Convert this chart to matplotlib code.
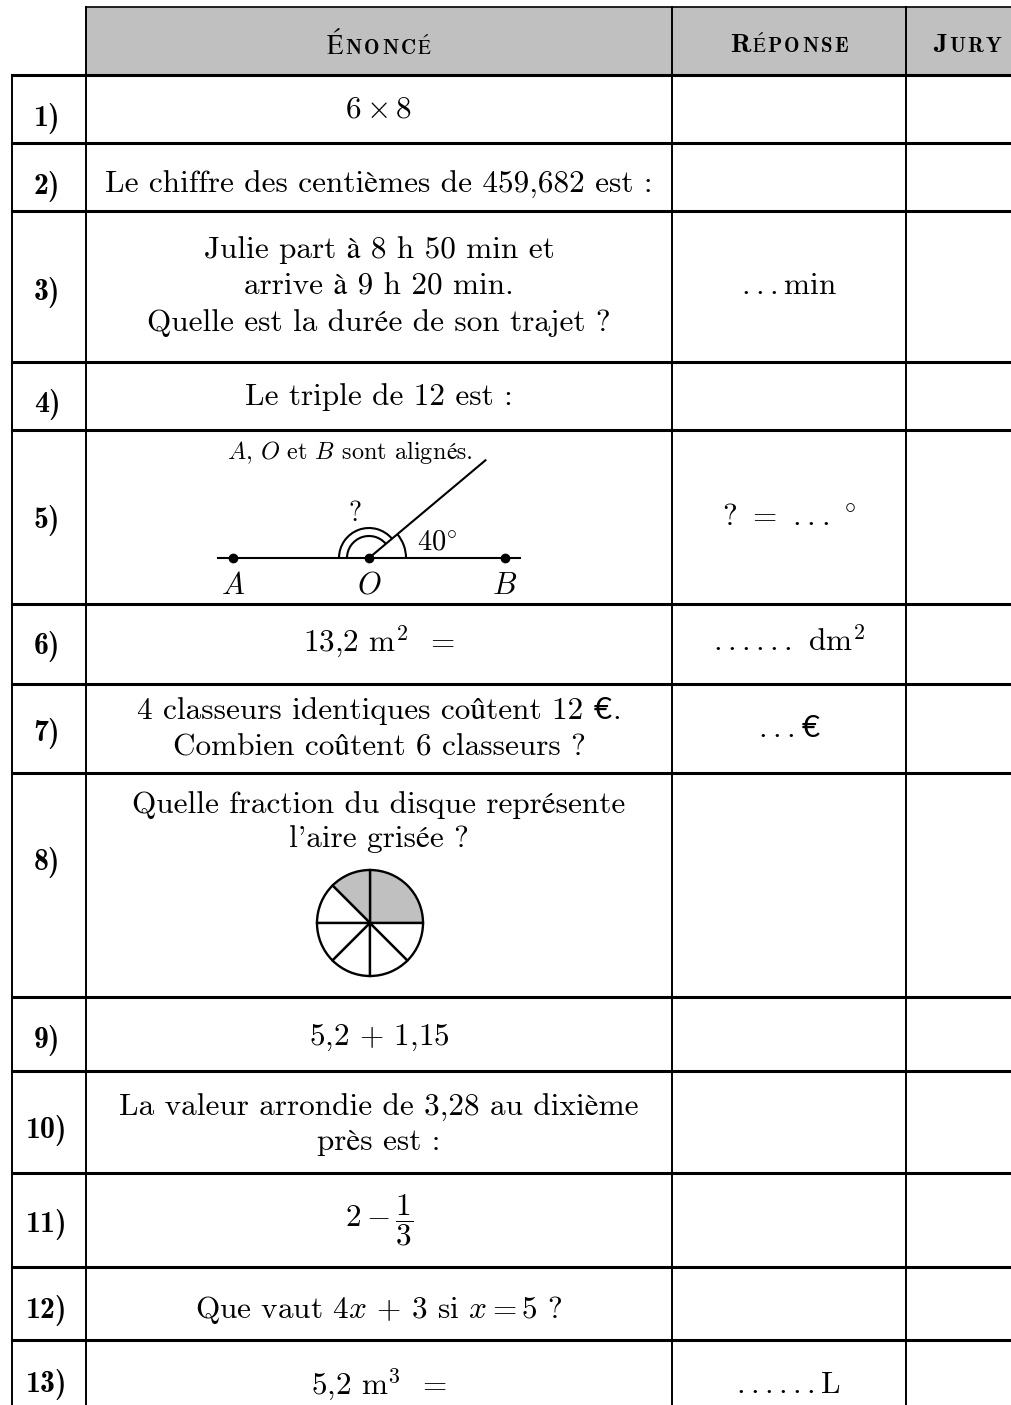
import matplotlib
matplotlib.use("Agg")
import numpy as np
import matplotlib.pyplot as plt
from matplotlib.patches import Rectangle, Arc
from matplotlib.offsetbox import TextArea, HPacker, VPacker, AnnotationBbox

plt.rcParams['mathtext.fontset'] = 'cm'
plt.rcParams['axes.unicode_minus'] = False

W, H = 1011, 1405
ROMAN = ['cmr10', 'STIXGeneral', 'DejaVu Serif']
BOLD = ['cmb10', 'STIXGeneral', 'DejaVu Serif']
EURO = ['Lato', 'DejaVu Sans']

# --- contenu du tableau ---
headers = [("É", "NONCÉ"), ("R", "ÉPONSE"), ("J", "URY")]
labels = ["1)", "2)", "3)", "4)", "5)", "6)", "7)", "8)", "9)", "10)", "11)", "12)", "13)"]
enonces = [
    r"$6\times 8$",
    "Le chiffre des centièmes de 459,682 est :",
    "Julie part à 8 h 50 min et\narrive à 9 h 20 min.\nQuelle est la durée de son trajet ?",
    "Le triple de 12 est :",
    "",
    r"13,2 m$^2$  =",
    "4 classeurs identiques coûtent 12 €.\nCombien coûtent 6 classeurs ?",
    "Quelle fraction du disque représente\nl'aire grisée ?",
    r"5,2 $+$ 1,15",
    "La valeur arrondie de 3,28 au dixième\nprès est :",
    r"$2 - \dfrac{1}{3}$",
    r"Que vaut $4x$ $+$ 3 si $x = 5$ ?",
    r"5,2 m$^3$  =",
]
reponses = ["", "", r"$...$min", "", r"? $=$ $...\;^{\circ}$", r"$......$ dm$^2$",
            r"$...$€", "", "", "", "", "", r"$......$L"]

# figure 5 : angle
angle_deg = 40
points = ["A", "O", "B"]
# figure 8 : disque partagé
parts = [90, 45, 45, 45, 45, 45, 45]
grises = [True, True, False, False, False, False, False]

# --- mise en page (pixels) ---
col_x = [12, 86, 672, 906]
head_top, head_bot = 7, 75
row_y = [75, 143, 211, 362, 430, 604, 684, 773, 997, 1071, 1173, 1267, 1340, 1430]
text_dy = [1, 8, 0, 1, 0, -2, 0, 0, 4, 3, 0, 7, 0]
lab_dy = [9, 9, 6, 9, 3, 2, 5, -22, 6, 8, 5, 7, 0]
FS = 22.5


def line_box(line, size, family=ROMAN):
    # une ligne, le signe € dans une police à part
    kids = []
    chunks = line.split("€")
    for k, chunk in enumerate(chunks):
        if k > 0:
            sym = " €" if chunks[k - 1].endswith("$") else "€"
            kids.append(TextArea(sym, textprops=dict(fontsize=size, family=EURO)))
        if chunk:
            kids.append(TextArea(chunk, textprops=dict(fontsize=size, family=family)))
    return HPacker(children=kids, align="baseline", pad=0, sep=0)


def packed(a, x, y, text, size, family=ROMAN, sep=0):
    lines = [line_box(l, size, family) for l in text.split("\n")]
    box = lines[0] if len(lines) == 1 else VPacker(children=lines, align="center", pad=0, sep=sep)
    a.add_artist(AnnotationBbox(box, (x, y), frameon=False, pad=0, box_alignment=(0.5, 0.5)))


fig = plt.figure(figsize=(W / 100, H / 100), dpi=100)
ax = fig.add_axes([0, 0, 1, 1])
ax.set_xlim(0, W)
ax.set_ylim(H, 0)
ax.axis("off")

# en-tête grisé
ax.add_patch(Rectangle((col_x[1], head_top), W - col_x[1], head_bot - head_top,
                       facecolor="#c0c0c0", edgecolor="none"))
ax.plot([col_x[1], W], [head_top, head_top], color="black", lw=1.2)
for x in col_x[1:]:
    ax.plot([x, x], [head_top, H], color="black", lw=1.4)
ax.plot([col_x[0], col_x[0]], [head_bot, H], color="black", lw=1.4)
for y in row_y[:-1]:
    ax.plot([col_x[0], W], [y, y], color="black", lw=2.2)

# petites capitales : une lettre par boîte, légèrement espacées
head_cx = [(col_x[1] + col_x[2]) / 2, (col_x[2] + col_x[3]) / 2, 967]
for (big, small), cx in zip(headers, head_cx):
    kids = [TextArea(big, textprops=dict(fontsize=19.5, family=BOLD))]
    kids += [TextArea(c, textprops=dict(fontsize=15, family=BOLD)) for c in small]
    box = HPacker(children=kids, align="baseline", pad=0, sep=1.6)
    ax.add_artist(AnnotationBbox(box, (cx, 46), frameon=False, pad=0, box_alignment=(0.5, 0.5)))

cx_num = 47
cx_en = (col_x[1] + col_x[2]) / 2
cx_rep = (col_x[2] + col_x[3]) / 2
for i, (lab, en, rep) in enumerate(zip(labels, enonces, reponses)):
    y0, y1 = row_y[i], row_y[i + 1]
    ym = (y0 + y1) / 2 if i < 12 else 1385
    ax.text(cx_num, ym + lab_dy[i], lab, family=BOLD, fontsize=21.5, ha="center", va="center")
    if i == 7:
        ax.text(cx_en, y0 + 18, en, family=ROMAN, fontsize=FS, ha="center", va="top",
                linespacing=1.28)
    elif "€" in en:
        packed(ax, cx_en, ym + text_dy[i], en, FS, sep=6)
    elif en:
        ax.text(cx_en, ym + text_dy[i], en, family=ROMAN, fontsize=FS, ha="center",
                va="center", linespacing=1.38 if i == 2 else 1.24)
    if rep:
        packed(ax, cx_rep, ym + text_dy[i], rep, FS)

# figure du 5) : axes en pixels, origine en O
ox, oy = 369, 558
x0, y0, x1, y1 = 190, 434, 560, 602
fa = fig.add_axes([x0 / W, 1 - y1 / H, (x1 - x0) / W, (y1 - y0) / H])
fa.set_xlim(x0 - ox, x1 - ox)
fa.set_ylim(oy - y1, oy - y0)
fa.axis("off")
th = np.radians(angle_deg)
fa.plot([-151, 151], [0, 0], color="black", lw=1.5)
fa.plot([0, 152 * np.cos(th)], [0, 152 * np.sin(th)], color="black", lw=1.5)
fa.plot([-136, 0, 136], [0, 0, 0], "o", color="black", ms=6)
for r in (22, 30):
    fa.add_patch(Arc((0, 0), 2 * r, 2 * r, theta1=angle_deg, theta2=180, color="black", lw=1.5))
fa.add_patch(Arc((0, 0), 74, 74, theta1=0, theta2=angle_deg, color="black", lw=1.5))
for p, x in zip(points, [-136, 0, 136]):
    fa.text(x, -27, "$%s$" % p, fontsize=22, ha="center", va="center")
fa.text(-14, 44, "?", family=ROMAN, fontsize=20, ha="center", va="center")
fa.text(68, 17, r"$%d^{\circ}$" % angle_deg, fontsize=20.5, ha="center", va="center")
# é hors mathtext (la police cm n'a pas les accents)
fa.add_artist(AnnotationBbox(
    HPacker(children=[TextArea(r"$A$, $O$ et $B$ sont align", textprops=dict(fontsize=17.5, family=ROMAN)),
                      TextArea("és.", textprops=dict(fontsize=17.5, family=ROMAN))],
            align="baseline", pad=0, sep=0),
    (-19, 106), frameon=False, pad=0, box_alignment=(0.5, 0.5)))

# figure du 8) : disque
pcx, pcy, pr = 370, 923, 53
half = 1.25 * pr
pa = fig.add_axes([(pcx - half) / W, 1 - (pcy + half) / H, 2 * half / W, 2 * half / H])
pa.pie(parts, startangle=0, counterclock=True,
       colors=["#c0c0c0" if g else "white" for g in grises],
       wedgeprops=dict(edgecolor="black", linewidth=1.7))
pa.set_xlim(-1.25, 1.25)
pa.set_ylim(-1.25, 1.25)

fig.savefig("out.png", dpi=100)
